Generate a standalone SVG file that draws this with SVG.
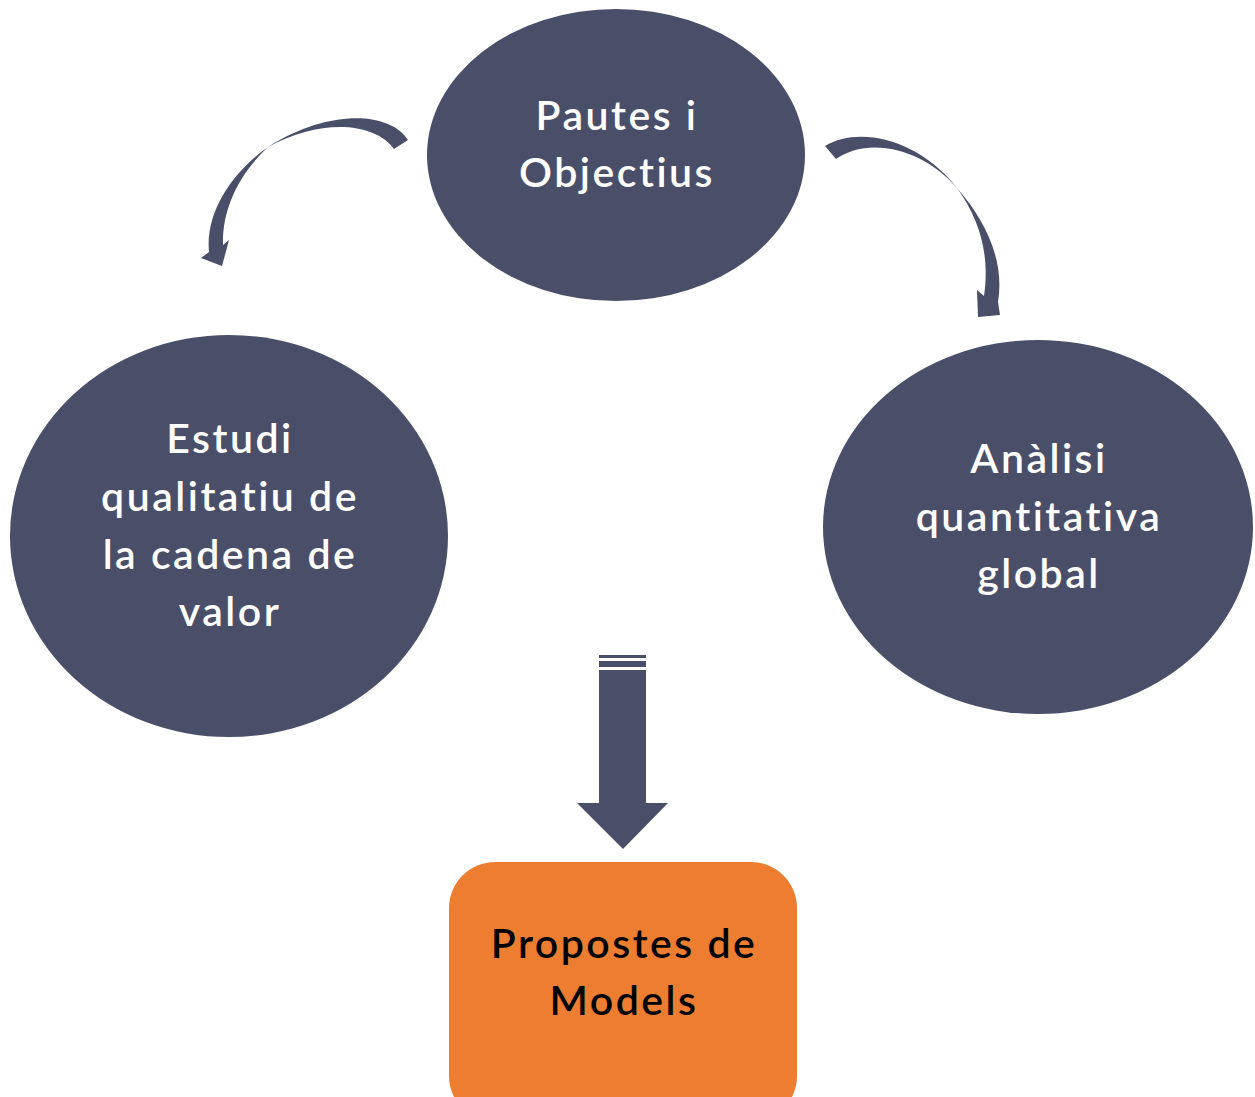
<svg xmlns="http://www.w3.org/2000/svg" width="1255" height="1097" viewBox="0 0 1255 1097">
<style>
.node{fill:#4a4f69}
.lbl{font-family:Lato,"Open Sans","Liberation Sans",sans-serif;font-size:41px;font-weight:600;letter-spacing:2.5px;font-variant-ligatures:none;fill:#ffffff;text-anchor:middle}
.dark{fill:#000000}
.arr{fill:#4a4f69}
</style>
<rect width="1255" height="1097" fill="#ffffff"/>
<g id="connectors">
<path class="arr" d="M 408,140 C 390,112 330,108 268,147 C 235,170 205,210 209,252 L 201,258 L 222,266 L 229,240 L 223,245 C 222,210 238,175 268,147 C 320,118 375,122 394,149 Z"/>
<path class="arr" d="M 825,146 C 860,125 920,140 957,188 C 985,220 1005,260 998,302 L 1000,315 L 978,317 L 977,290 L 984,296 C 990,255 980,220 957,188 C 925,150 870,135 836,159 Z"/>
<g id="down-arrow">
<rect class="arr" x="599" y="655" width="47" height="3"/>
<rect class="arr" x="599" y="661" width="47" height="6"/>
<path class="arr" d="M 599,670 L 646,670 L 646,803 L 668,803 L 623,849 L 577,803 L 599,803 Z"/>
</g>
</g>
<g id="node-pautes">
<ellipse class="node" cx="616" cy="155" rx="189" ry="146"/>
<text class="lbl" x="617" y="130">Pautes i</text>
<text class="lbl" x="617" y="187">Objectius</text>
</g>
<g id="node-estudi">
<ellipse class="node" cx="229" cy="536" rx="219" ry="201"/>
<text class="lbl" x="230" y="453">Estudi</text>
<text class="lbl" x="230" y="511">qualitatiu de</text>
<text class="lbl" x="230" y="569">la cadena de</text>
<text class="lbl" x="230" y="626">valor</text>
</g>
<g id="node-analisi">
<ellipse class="node" cx="1038" cy="527" rx="215" ry="187"/>
<text class="lbl" x="1039" y="473">Anàlisi</text>
<text class="lbl" x="1039" y="531">quantitativa</text>
<text class="lbl" x="1039" y="588">global</text>
</g>
<g id="node-propostes">
<rect x="449" y="862" width="348" height="260" rx="46" ry="46" fill="#ed7d31"/>
<text class="lbl dark" x="624" y="958">Propostes de</text>
<text class="lbl dark" x="624" y="1015">Models</text>
</g>
</svg>
